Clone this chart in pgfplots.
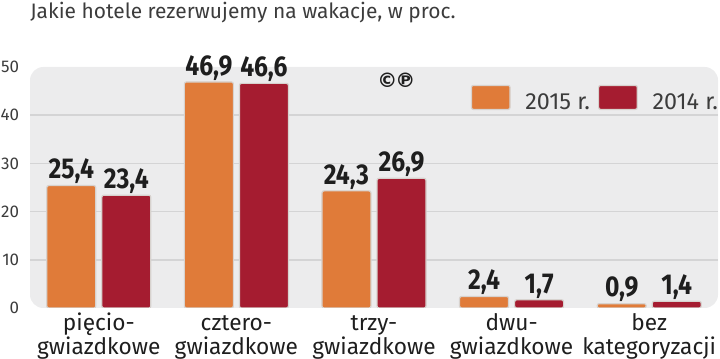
\documentclass[border=0pt]{standalone}
\usepackage{fontspec}
\setmainfont{Fira Sans}
\newfontfamily\lightfont{Fira Sans}
\newfontfamily\valfont{Fira Sans}[FakeStretch=0.86]
\newfontfamily\symfont{DejaVu Sans}
\usepackage{pgfplots}
\pgfplotsset{compat=1.18}
\definecolor{orangec}{RGB}{224,123,57}
\definecolor{redc}{RGB}{165,28,48}
\definecolor{bgc}{RGB}{236,236,237}
\definecolor{gridc}{RGB}{212,212,213}
\definecolor{edgec}{RGB}{215,210,206}
\definecolor{txt}{RGB}{30,30,30}
\definecolor{lighttxt}{RGB}{60,60,60}
\begin{document}
\begin{tikzpicture}
\useasboundingbox (0,0) rectangle (540pt,269.25pt);
\node[anchor=base west, inner sep=0pt, font=\lightfont\fontsize{15.7}{16}\selectfont, text=lighttxt] at (22.5pt,255.4pt) {Jakie hotele rezerwujemy na wakacje, w proc.};
\begin{axis}[
  at={(22.5pt,38.25pt)}, anchor=south west,
  scale only axis, width=516pt, height=180.75pt,
  xmin=-0.5, xmax=4.5, ymin=0, ymax=50,
  axis line style={draw=none}, tick style={draw=none},
  axis background/.style={fill=bgc, rounded corners=10pt},
  ytick={10,20,30,40}, extra y ticks={0,50}, extra y tick style={grid=none},
  ymajorgrids, major grid style={draw=gridc, line width=1.1pt},
  /pgf/number format/assume math mode=true,
  yticklabel style={font=\lightfont\fontsize{12.7}{13}\selectfont, text=lighttxt, anchor=east, inner sep=0pt, xshift=-8pt},
  xtick={0,1,2,3,4},
  xticklabels={{\rule{0pt}{13pt}pięcio-\\gwiazdkowe},{\rule{0pt}{13pt}cztero-\\gwiazdkowe},{\rule{0pt}{13pt}trzy-\\gwiazdkowe},{\rule{0pt}{13pt}dwu-\\gwiazdkowe},{\rule{0pt}{13pt}bez\\kategoryzacji}},
  xticklabel style={font=\fontsize{17}{17.8}\selectfont, text=txt, align=center, anchor=north, inner sep=0pt, yshift=0.5pt},
  ybar, bar width=0.356,
  nodes near coords={\pgfmathprintnumber[fixed, fixed zerofill, precision=1, use comma, assume math mode=true]{\pgfplotspointmeta}},
  every node near coord/.append style={font=\valfont\bfseries\fontsize{21.5}{21.5}\selectfont, text=txt, anchor=base, inner sep=0pt, yshift=5pt},
  legend columns=2,
  legend style={at={(1,0.871)}, anchor=east, draw=none, fill=none, inner sep=0pt, outer sep=0pt,
    font=\lightfont\fontsize{17.5}{17.5}\selectfont, text=lighttxt,
    nodes={inner sep=0pt},
    /tikz/every odd column/.append style={column sep=11pt},
    /tikz/every even column/.append style={column sep=6pt}},
]
\addplot[fill=orangec, draw=edgec, line width=0.9pt, rounded corners=1.5pt, bar shift=-0.2,
  legend image code/.code={\draw[fill=orangec, draw=edgec, line width=0.9pt, rounded corners=1.5pt] (0pt,-5.25pt) rectangle (29pt,12.75pt);}]
  coordinates {(0,25.4) (1,46.9) (2,24.3) (3,2.4) (4,0.9)};
\addplot[fill=redc, draw=edgec, line width=0.9pt, rounded corners=1.5pt, bar shift=0.2,
  legend image code/.code={\draw[fill=redc, draw=edgec, line width=0.9pt, rounded corners=1.5pt] (0pt,-5.25pt) rectangle (29pt,12.75pt);}]
  coordinates {(0,23.4) (1,46.6) (2,26.9) (3,1.7) (4,1.4)};
\legend{2015 r., 2014 r.}
\node[font=\symfont\bfseries\fontsize{15}{15}\selectfont, text=txt] at (axis cs:2.163,47.2) {©\kern-1.5pt℗};
\end{axis}
\end{tikzpicture}
\end{document}
